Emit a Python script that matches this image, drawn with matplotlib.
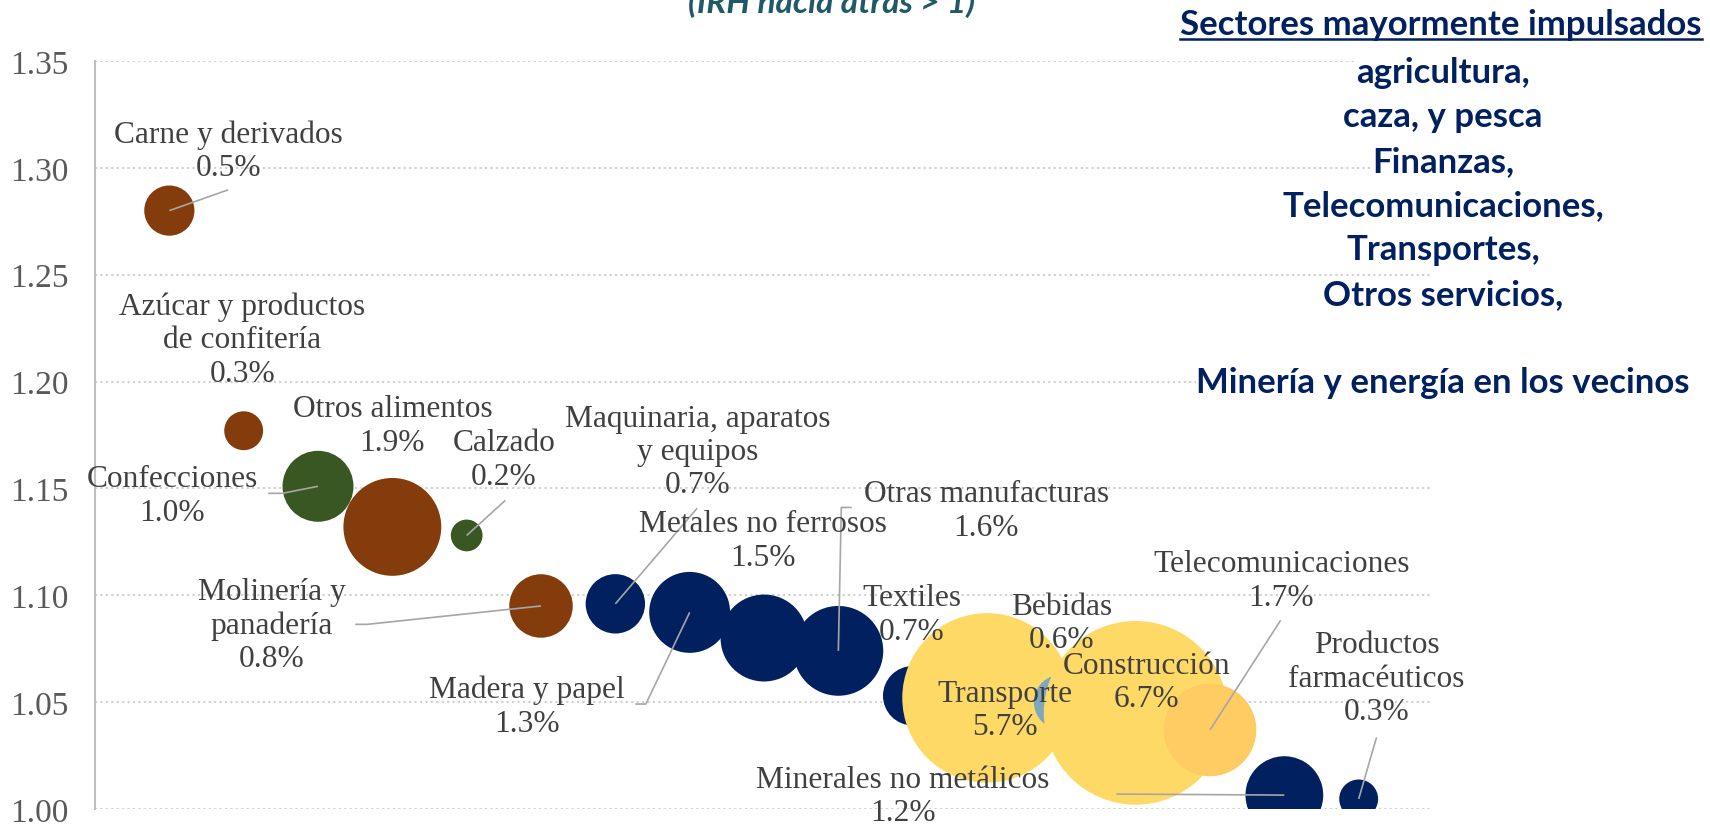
import matplotlib.pyplot as plt
from matplotlib.lines import Line2D
import numpy as np

# Datos: sectores con IRH hacia atrás > 1 (x = posición en el ranking)
sectores = ["Carne y derivados", "Azúcar y productos\nde confitería", "Confecciones",
            "Otros alimentos", "Calzado", "Molinería y\npanadería",
            "Maquinaria, aparatos\ny equipos", "Madera y papel", "Metales no ferrosos",
            "Otras manufacturas", "Textiles", "Transporte", "Bebidas", "Construcción",
            "Telecomunicaciones", "Minerales no metálicos", "Productos\nfarmacéuticos"]
posicion = [1, 2, 3, 4, 5, 6, 7, 8, 9, 10, 11, 12, 13, 14, 15, 16, 17]
irh = [1.280, 1.177, 1.151, 1.132, 1.128, 1.095, 1.096, 1.092, 1.080,
       1.074, 1.053, 1.052, 1.050, 1.045, 1.037, 1.0065, 1.0047]
participacion = [0.5, 0.3, 1.0, 1.9, 0.2, 0.8, 0.7, 1.3, 1.5,
                 1.6, 0.7, 5.7, 0.6, 6.7, 1.7, 1.2, 0.3]
grupo = ["alim", "alim", "cuero", "alim", "cuero", "alim", "manuf", "manuf", "manuf",
         "manuf", "manuf", "serv", "bebidas", "serv", "telecom", "manuf", "manuf"]

colores_grupo = {"alim": "#843C0C", "cuero": "#385723", "manuf": "#002060",
                 "serv": "#FFD966", "bebidas": "#7FA7BE", "telecom": "#FFCB63"}

# Posición de las etiquetas (centro del bloque) y quiebres de las líneas guía
pos_etiquetas = [(1.79, 1.308), (1.98, 1.2196), (1.04, 1.1467), (4.0, 1.1794),
                 (5.50, 1.1636), (2.38, 1.086), (8.11, 1.1673), (5.81, 1.0481),
                 (8.99, 1.1257), (11.99, 1.1397), (10.99, 1.0911), (12.24, 1.0463),
                 (13.0, 1.0869), (14.14, 1.0593), (15.96, 1.107), (10.87, 1.006),
                 (17.24, 1.0612)]
guias = {0: [(1.79, 1.2897)],
         2: [(2.33, 1.1477), (2.52, 1.1477)],
         4: [(5.52, 1.1444)],
         5: [(3.50, 1.0864), (3.66, 1.0864)],
         6: [(8.10, 1.1407)],
         7: [(7.27, 1.0491), (7.41, 1.0491)],
         9: [(10.18, 1.1411), (10.04, 1.1411)],
         14: [(15.95, 1.0883)],
         15: [(13.74, 1.0070)],
         16: [(17.24, 1.0335)]}

texto_derecha = ["agricultura,", "caza, y pesca", "Finanzas,", "Telecomunicaciones,",
                 "Transportes,", "Otros servicios,", "", "Minería y energía en los vecinos"]

fig = plt.figure(figsize=(17.1, 8.29), dpi=100)
ax = fig.add_axes([0.05556, 0.02292, 0.78246, 0.90229])

colores = [colores_grupo[g] for g in grupo]
ax.scatter(posicion, irh, s=np.array(participacion) * 2612, c=colores,
           edgecolors="none", zorder=3)

# líneas guía
for i, pts in guias.items():
    xs = [p[0] for p in pts] + [posicion[i]]
    ys = [p[1] for p in pts] + [irh[i]]
    ax.plot(xs, ys, color="#A6A6A6", lw=1.2, zorder=4, solid_capstyle="butt")

# etiquetas
for i, nombre in enumerate(sectores):
    x, y = pos_etiquetas[i]
    ax.text(x, y, f"{nombre}\n{participacion[i]:.1f}%", ha="center", va="center",
            fontsize=22.6, family="Liberation Serif", color="#404040",
            linespacing=1.2, zorder=5, clip_on=False)

ax.set_xlim(0, 18)
ax.set_ylim(1.0, 1.35)
ticks = np.arange(1.0, 1.351, 0.05)
ax.set_yticks(ticks)
ax.set_yticklabels([f"{v:.2f}" for v in ticks],
                   family="Liberation Serif", fontsize=24, color="#595959")
ax.set_xticks([])
ax.tick_params(axis="y", length=0, pad=19)
ax.grid(axis="y", color="#D0D0D0", linestyle=(0, (1, 1.6)), lw=1.5, zorder=0)
for s in ["top", "right", "bottom"]:
    ax.spines[s].set_visible(False)
ax.spines["left"].set_color("#BFBFBF")
ax.spines["left"].set_linewidth(1.5)

# título (cortado arriba)
fig.text(0.4865, 0.984, "(IRH hacia atrás > 1)", ha="center", va="baseline",
         family="Lato", fontsize=24, fontweight="bold", fontstyle="italic",
         color="#215968")

# texto a la derecha
t_titulo = fig.text(0.8427, 0.9698, "Sectores mayormente impulsados", ha="center",
                    va="center", family="Lato", fontsize=25, fontweight="bold",
                    color="#002060")
for i, linea in enumerate(texto_derecha):
    if linea:
        fig.text(0.8439, 0.9119 - i * 0.0535, linea, ha="center", va="center",
                 family="Lato", fontsize=25, fontweight="bold", color="#002060",
                 bbox=dict(fc="white", ec="none", pad=0))

fig.canvas.draw()
bb = t_titulo.get_window_extent()
W, H = fig.get_size_inches() * fig.dpi
fig.add_artist(Line2D([bb.x0 / W, bb.x1 / W], [(bb.y0 + 1) / H] * 2,
                      color="#002060", lw=1.8))

fig.savefig("out.png", dpi=100)
